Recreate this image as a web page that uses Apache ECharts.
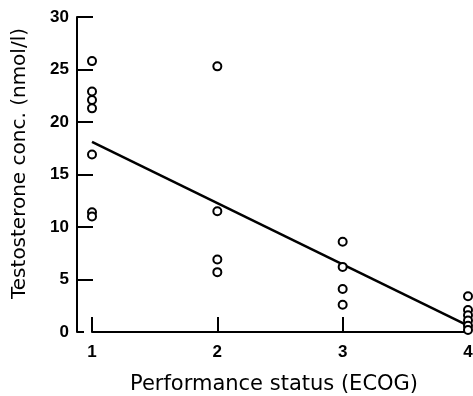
<!DOCTYPE html>
<html>
<head>
<meta charset="utf-8">
<script src="https://cdn.jsdelivr.net/npm/echarts@6/dist/echarts.min.js"></script>
<style>
  html, body { margin: 0; padding: 0; background: #fff; }
  #chart { width: 473px; height: 396px; }
</style>
</head>
<body>
<div id="chart"></div>
<script>
// performance status (ECOG) vs testosterone
var ecog1 = [25.8, 22.9, 22.1, 21.3, 16.9, 11.4, 11.0];
var ecog2 = [25.3, 11.5, 6.9, 5.7];
var ecog3 = [8.6, 6.2, 4.1, 2.6];
var ecog4 = [3.4, 2.1, 1.6, 1.1, 0.6, 0.2];
var fitLine = [[1, 18.1], [4, 0.6]];
var xTicks = [1, 2, 3, 4];
var yTicks = [5, 10, 15, 20, 25, 30];

var groups = [ecog1, ecog2, ecog3, ecog4];
var points = [];
groups.forEach(function (vals, i) {
    vals.forEach(function (v) { points.push([xTicks[i], v]); });
});

var font = 'DejaVu Sans';
var tickFont = { fontFamily: 'Liberation Sans', fontWeight: 'bold', fontSize: 17, color: '#000' };

var chart = echarts.init(document.getElementById('chart'));
chart.setOption({
    animation: false,
    backgroundColor: '#fff',
    grid: { left: 92, right: 5, top: 17, bottom: 64, containLabel: false, outerBoundsMode: 'none' },
    xAxis: {
        type: 'value',
        min: 1, max: 4, interval: 1,
        name: 'Performance status (ECOG)',
        nameLocation: 'middle',
        nameGap: 42,
        nameTextStyle: { fontFamily: font, fontSize: 21, color: '#000', padding: [0, 12, 0, 0] },
        axisLine: { lineStyle: { color: '#000', width: 2 } },
        axisTick: { inside: true, length: 15, lineStyle: { color: '#000', width: 2 } },
        axisLabel: Object.assign({ margin: 12 }, tickFont),
        splitLine: { show: false }
    },
    yAxis: [{
        type: 'value',
        min: 0, max: 30,
        offset: 15,
        name: 'Testosterone conc. (nmol/l)',
        nameLocation: 'middle',
        nameGap: 47,
        nameTextStyle: { fontFamily: font, fontSize: 20, color: '#000', padding: [0, 0, 0, 22] },
        axisLine: { show: true, lineStyle: { color: '#000', width: 2 } },
        axisTick: { show: true, inside: true, length: 16, customValues: yTicks, lineStyle: { color: '#000', width: 2 } },
        axisLabel: Object.assign({ margin: 8, customValues: [0].concat(yTicks) }, tickFont),
        splitLine: { show: false }
    }, {
        type: 'value',
        min: 0, max: 30,
        offset: 15,
        position: 'left',
        axisLine: { show: false },
        axisTick: { show: true, inside: true, length: 7, customValues: [0], lineStyle: { color: '#000', width: 2 } },
        axisLabel: { show: false },
        splitLine: { show: false }
    }],
    series: [{
        type: 'line',
        data: fitLine,
        showSymbol: false,
        lineStyle: { color: '#000', width: 2.5 },
        z: 2
    }, {
        type: 'scatter',
        data: points,
        symbol: 'circle',
        symbolSize: 8,
        itemStyle: { color: '#fff', borderColor: '#000', borderWidth: 2, opacity: 1 },
        z: 3
    }]
});
</script>
</body>
</html>
